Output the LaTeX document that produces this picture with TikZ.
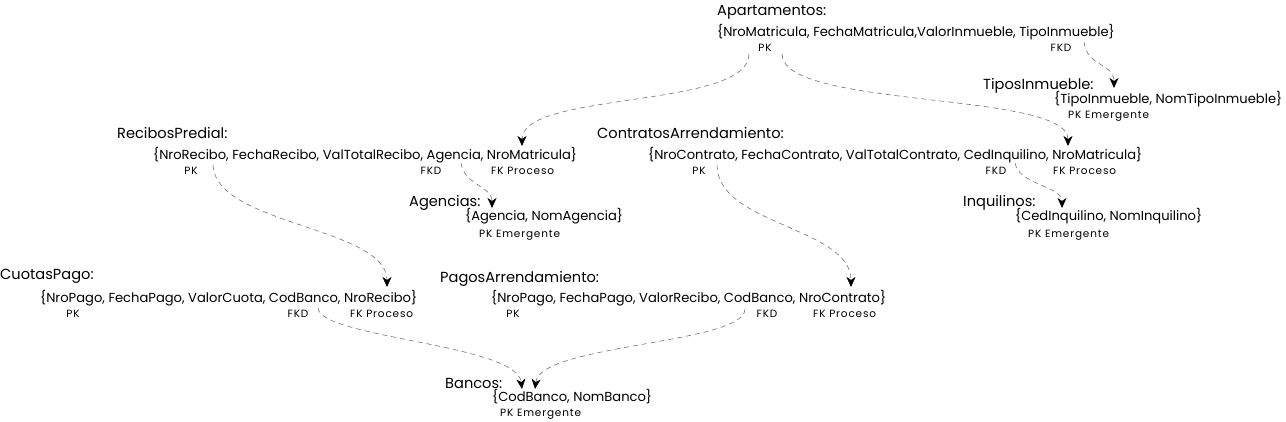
\documentclass[tikz,border=0pt]{standalone}
\usepackage{fontspec}
\setmainfont{Poppins}
\usepackage{tikz}
\usetikzlibrary{arrows.meta}

\begin{document}
\begin{tikzpicture}[
x=1pt, y=-1pt,
tbl/.style={anchor=west, inner sep=0pt, font=\fontsize{14.6}{16}\selectfont},
attr/.style={anchor=west, inner sep=0pt, font=\fontsize{13.1}{15}\selectfont},
tag/.style={inner sep=0pt, font=\fontsize{10.5}{12}\selectfont\addfontfeature{LetterSpace=8}},
arr/.style={-{Stealth[length=10pt, width=9pt, inset=3pt, color=black, fill=black]}, draw=black!55, dash pattern=on 5pt off 4pt, line width=0.6pt}
]
\useasboundingbox (0,0) rectangle (1286,422);

% Apartamentos
\node[tbl] (apaT) at (717,12) {Apartamentos:};
\node[attr] (apaA) at (717,32) {\{NroMatricula, FechaMatricula,ValorInmueble, TipoInmueble\}};
\node[tag] (apaPK) at (765,48) {PK};
\node[tag] (apaFKD) at (1061,48) {FKD};

% TiposInmueble
\node[tbl] (tipT) at (983,86) {TiposInmueble:};
\node[attr] (tipA) at (1054,99) {\{TipoInmueble, NomTipoInmueble\}};
\node[tag, anchor=west] (tipPK) at (1068,116) {PK Emergente};

% RecibosPredial
\node[tbl] (recT) at (117,133) {RecibosPredial:};
\node[attr] (recA) at (153,155) {\{NroRecibo, FechaRecibo, ValTotalRecibo, Agencia, NroMatricula\}};
\node[tag] (recPK) at (191,171) {PK};
\node[tag] (recFKD) at (431,171) {FKD};
\node[tag, anchor=west] (recFKP) at (491,171) {FK Proceso};

% Agencias
\node[tbl] (agnT) at (409,203) {Agencias:};
\node[attr] (agnA) at (465,216) {\{Agencia, NomAgencia\}};
\node[tag, anchor=west] (agnPK) at (479,235) {PK Emergente};

% ContratosArrendamiento
\node[tbl] (conT) at (597,133) {ContratosArrendamiento:};
\node[attr] (conA) at (648,155) {\{NroContrato, FechaContrato, ValTotalContrato, CedInquilino, NroMatricula\}};
\node[tag] (conPK) at (699,171) {PK};
\node[tag] (conFKD) at (996,171) {FKD};
\node[tag, anchor=west] (conFKP) at (1053,171) {FK Proceso};

% Inquilinos
\node[tbl] (inqT) at (963,203) {Inquilinos:};
\node[attr] (inqA) at (1015,216) {\{CedInquilino, NomInquilino\}};
\node[tag, anchor=west] (inqPK) at (1028,235) {PK Emergente};

% CuotasPago
\node[tbl] (cuoT) at (0,276) {CuotasPago:};
\node[attr] (cuoA) at (40,298) {\{NroPago, FechaPago, ValorCuota, CodBanco, NroRecibo\}};
\node[tag] (cuoPK) at (73,314) {PK};
\node[tag] (cuoFKD) at (298,314) {FKD};
\node[tag, anchor=west] (cuoFKP) at (350,314) {FK Proceso};

% PagosArrendamiento
\node[tbl] (pagT) at (440,279) {PagosArrendamiento:};
\node[attr] (pagA) at (491,298) {\{NroPago, FechaPago, ValorRecibo, CodBanco, NroContrato\}};
\node[tag] (pagPK) at (513,314) {PK};
\node[tag] (pagFKD) at (767,314) {FKD};
\node[tag, anchor=west] (pagFKP) at (813,314) {FK Proceso};

% Bancos
\node[tbl] (banT) at (445,383) {Bancos:};
\node[attr] (banA) at (492,397) {\{CodBanco, NomBanco\}};
\node[tag, anchor=west] (banPK) at (500,414) {PK Emergente};

% referencias
\draw[arr] ([shift={(32,22)}]apaA.west) .. controls +(0,55) and +(0,-55) .. ([shift={(369,-9)}]recA.west);
\draw[arr] ([shift={(65,22)}]apaA.west) .. controls +(0,55) and +(0,-55) .. ([shift={(420,-9)}]conA.west);
\draw[arr] ([shift={(367,10)}]apaA.west) .. controls +(3,25) and +(0,-25) .. ([shift={(60,-11)}]tipA.west);
\draw[arr] ([shift={(308,8)}]recA.west) .. controls +(3,22) and +(0,-22) .. ([shift={(27,-8)}]agnA.west);
\draw[arr] ([shift={(60,10)}]recA.west) .. controls +(2,60) and +(0,-60) .. ([shift={(347,-11)}]cuoA.west);
\draw[arr] ([shift={(69,10)}]conA.west) .. controls +(0,60) and +(0,-60) .. ([shift={(360,-11)}]pagA.west);
\draw[arr] ([shift={(367,8)}]conA.west) .. controls +(4,22) and +(0,-22) .. ([shift={(47,-8)}]inqA.west);
\draw[arr] ([shift={(278,10)}]cuoA.west) .. controls +(2,30) and +(-5,-45) .. ([shift={(30,-8)}]banA.west);
\draw[arr] ([shift={(254,11)}]pagA.west) .. controls +(0,35) and +(5,-45) .. ([shift={(43,-8)}]banA.west);
\end{tikzpicture}
\end{document}
